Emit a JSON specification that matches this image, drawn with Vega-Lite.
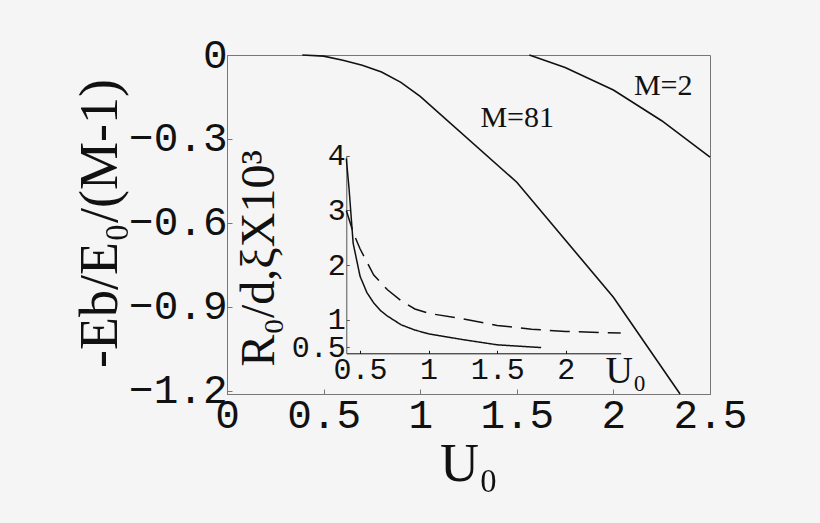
{
  "$schema": "https://vega.github.io/schema/vega-lite/v6.json",
  "width": 483,
  "height": 339,
  "autosize": {"type": "none"},
  "padding": {"left": 227, "top": 55, "right": 110, "bottom": 129},
  "background": "#f5f5f5",
  "config": {
    "view": {"stroke": "#777", "strokeWidth": 1},
    "axis": {"grid": false, "labelColor": "#111", "titleColor": "#111", "titleFontWeight": "normal", "labelOverlap": false, "labelFlush": false, "labelBound": false}
  },
  "datasets": {
    "main": [
      {"U": 0.39, "E": 0, "M": "M=81"},
      {"U": 0.5, "E": -0.004, "M": "M=81"},
      {"U": 0.6, "E": -0.019, "M": "M=81"},
      {"U": 0.7, "E": -0.037, "M": "M=81"},
      {"U": 0.8, "E": -0.061, "M": "M=81"},
      {"U": 0.9, "E": -0.098, "M": "M=81"},
      {"U": 1.0, "E": -0.148, "M": "M=81"},
      {"U": 1.5, "E": -0.455, "M": "M=81"},
      {"U": 2.0, "E": -0.866, "M": "M=81"},
      {"U": 2.345, "E": -1.212, "M": "M=81"},
      {"U": 1.565, "E": 0, "M": "M=2"},
      {"U": 1.75, "E": -0.045, "M": "M=2"},
      {"U": 2.0, "E": -0.125, "M": "M=2"},
      {"U": 2.25, "E": -0.235, "M": "M=2"},
      {"U": 2.5, "E": -0.365, "M": "M=2"}
    ],
    "labels": [
      {"U": 1.502, "E": -0.2245, "text": "M=81"},
      {"U": 2.258, "E": -0.111, "text": "M=2"}
    ],
    "inset": [
      {"U": 0.4, "v": 3.95, "q": "R0/d"},
      {"U": 0.42, "v": 3.4, "q": "R0/d"},
      {"U": 0.45, "v": 2.4, "q": "R0/d"},
      {"U": 0.5, "v": 1.8, "q": "R0/d"},
      {"U": 0.55, "v": 1.5, "q": "R0/d"},
      {"U": 0.6, "v": 1.31, "q": "R0/d"},
      {"U": 0.65, "v": 1.17, "q": "R0/d"},
      {"U": 0.7, "v": 1.07, "q": "R0/d"},
      {"U": 0.8, "v": 0.91, "q": "R0/d"},
      {"U": 0.9, "v": 0.815, "q": "R0/d"},
      {"U": 1.0, "v": 0.745, "q": "R0/d"},
      {"U": 1.25, "v": 0.64, "q": "R0/d"},
      {"U": 1.5, "v": 0.545, "q": "R0/d"},
      {"U": 1.82, "v": 0.495, "q": "R0/d"},
      {"U": 0.4, "v": 3.0, "q": "xi"},
      {"U": 0.45, "v": 2.6, "q": "xi"},
      {"U": 0.5, "v": 2.3, "q": "xi"},
      {"U": 0.6, "v": 1.82, "q": "xi"},
      {"U": 0.7, "v": 1.55, "q": "xi"},
      {"U": 0.8, "v": 1.35, "q": "xi"},
      {"U": 0.9, "v": 1.2, "q": "xi"},
      {"U": 1.0, "v": 1.12, "q": "xi"},
      {"U": 1.25, "v": 1.02, "q": "xi"},
      {"U": 1.5, "v": 0.9, "q": "xi"},
      {"U": 1.75, "v": 0.83, "q": "xi"},
      {"U": 2.0, "v": 0.79, "q": "xi"},
      {"U": 2.4, "v": 0.76, "q": "xi"}
    ]
  },
  "layer": [
    {
      "layer": [
        {
          "data": {"name": "main"},
          "mark": {"type": "line", "color": "#111", "strokeWidth": 1.6},
          "encoding": {
            "x": {
              "field": "U", "type": "quantitative",
              "scale": {"domain": [0, 2.5], "nice": false, "zero": false},
              "axis": {
                "orient": "bottom", "values": [0, 0.5, 1, 1.5, 2, 2.5], "format": "~g",
                "labelFont": "Liberation Mono", "labelFontSize": 41, "labelPadding": 6,
                "tickSize": -5, "tickColor": "#777", "domainColor": "#777",
                "title": "U₀", "titleFont": "Liberation Serif", "titleFontSize": 54,
                "titleY": 86, "titleBaseline": "alphabetic"
              }
            },
            "y": {
              "field": "E", "type": "quantitative",
              "scale": {"domain": [-1.212, 0], "nice": false, "zero": false},
              "axis": {
                "orient": "left", "values": [0, -0.3, -0.6, -0.9, -1.2], "format": "~g",
                "labelFont": "Liberation Mono", "labelFontSize": 41, "labelPadding": 5,
                "tickSize": -5, "tickColor": "#777", "domainColor": "#777",
                "title": "-Eb/E₀/(M-1)", "titleFont": "Liberation Serif", "titleFontSize": 54,
                "titleAngle": -90, "titleX": -127, "titleY": 168, "titleAlign": "center", "titleBaseline": "middle"
              }
            },
            "detail": {"field": "M"}
          }
        },
        {
          "data": {"name": "labels"},
          "mark": {"type": "text", "font": "Liberation Serif", "fontSize": 30, "color": "#111", "baseline": "middle", "align": "center"},
          "encoding": {
            "x": {"field": "U", "type": "quantitative"},
            "y": {"field": "E", "type": "quantitative"},
            "text": {"field": "text"}
          }
        }
      ]
    },
    {
      "data": {"name": "inset"},
      "mark": {"type": "line", "color": "#111", "strokeWidth": 1.5},
      "encoding": {
        "x": {
          "field": "U", "type": "quantitative",
          "scale": {"domain": [0.4, 2.4], "range": [119.3, 393.7], "nice": false, "zero": false},
          "axis": {
            "orient": "bottom", "offset": -40.7, "values": [0.5, 1, 1.5, 2], "format": "~g",
            "labelFont": "Liberation Mono", "labelFontSize": 30, "labelPadding": 4,
            "tickSize": -3, "tickColor": "#111", "domainColor": "#111",
            "title": "U₀", "titleFont": "Liberation Serif", "titleFontSize": 38,
            "titleX": 378, "titleY": 29, "titleAlign": "left", "titleBaseline": "alphabetic"
          }
        },
        "y": {
          "field": "v", "type": "quantitative",
          "scale": {"domain": [0.39, 4], "range": [298.3, 100.7], "nice": false, "zero": false},
          "axis": {
            "orient": "left", "offset": -119.3, "values": [0.5, 1, 2, 3, 4], "format": "~g",
            "labelFont": "Liberation Mono", "labelFontSize": 30, "labelPadding": 4,
            "tickSize": -3, "tickColor": "#555", "domainColor": "#555",
            "title": "R₀/d,ξX10³", "titleFont": "Liberation Serif", "titleFontSize": 48,
            "titleAngle": -90, "titleX": -87, "titleY": 203, "titleAlign": "center", "titleBaseline": "middle"
          }
        },
        "strokeDash": {
          "field": "q", "type": "nominal",
          "scale": {"domain": ["R0/d", "xi"], "range": [[1, 0], [20, 9]]},
          "legend": null
        }
      }
    }
  ],
  "resolve": {
    "scale": {"x": "independent", "y": "independent"},
    "axis": {"x": "independent", "y": "independent"}
  }
}
